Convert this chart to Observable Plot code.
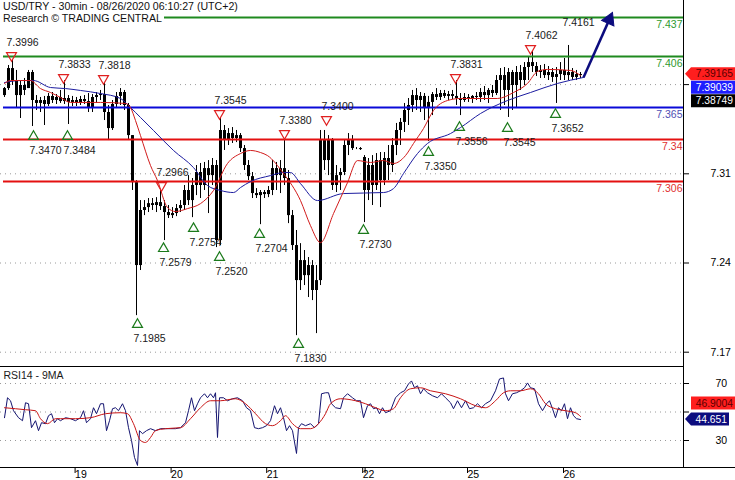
<!DOCTYPE html>
<html><head><meta charset="utf-8">
<script src="https://cdn.jsdelivr.net/npm/d3@7"></script>
<script src="https://cdn.jsdelivr.net/npm/@observablehq/plot@0.6"></script>
<style>
body{margin:0;background:#fff;}
#wrap{position:relative;width:735px;height:480px;overflow:hidden;background:#fff;font-family:"Liberation Sans",Arial,sans-serif;}
#main,#rsi{position:absolute;left:0;}
#main{top:0;} #rsi{top:367px;}
.title{position:absolute;left:0;top:0;font-size:10.6px;line-height:12px;color:#111;}
.title span{display:inline-block;background:#fff;padding:0 2px 0 3px;height:12px;}
.ln{position:absolute;background:#000;}
</style></head><body>
<div id="wrap">
  <div id="main"></div>
  <div id="rsi"></div>
  <div class="ln" style="left:683px;top:0;width:1px;height:467px"></div>
  <div class="ln" style="left:0;top:366px;width:683px;height:1px"></div>
  <div class="ln" style="left:0;top:467px;width:735px;height:1px"></div>
  <div class="title"><span>USD/TRY - 30min - 08/26/2020 06:10:27 (UTC+2)</span><br><span>Research © TRADING CENTRAL</span></div>
</div>
<script>
// ---------- DATA (hourly bars; t = hours since first bar) ----------
const candleHigh = [7.3777,7.3950,7.3997,7.3911,7.3832,7.3848,7.3911,7.3911,7.3714,7.3699,
7.3707,7.3730,7.3738,7.3722,7.3754,7.3832,7.3714,7.3707,7.3699,7.3707,
7.3714,7.3730,7.3722,7.3738,7.3754,7.3817,7.3636,7.3675,7.3738,7.3769,
7.3754,7.3652,7.3400,7.3047,7.2890,7.2890,7.2906,7.2906,7.2913,7.2969,
7.2890,7.2851,7.2835,7.2859,7.2890,7.3008,7.3086,7.3063,7.3165,7.3181,
7.3189,7.3204,7.3220,7.3204,7.3542,7.3479,7.3455,7.3463,7.3440,7.3416,
7.3322,7.3204,7.3110,7.2984,7.2969,7.2969,7.3000,7.3204,7.3189,7.3204,
7.3377,7.3126,7.2812,7.2655,7.2552,7.2498,7.2443,7.2419,7.2380,7.3440,
7.3440,7.3400,7.3377,7.3165,7.3141,7.3361,7.3416,7.3400,7.3306,7.3306,
7.3243,7.3220,7.3243,7.3259,7.3267,7.3267,7.3322,7.3377,7.3495,7.3534,
7.3652,7.3691,7.3754,7.3769,7.3738,7.3730,7.3707,7.3738,7.3769,7.3754,
7.3754,7.3746,7.3754,7.3832,7.3730,7.3730,7.3722,7.3714,7.3738,7.3769,
7.3785,7.3769,7.3793,7.3871,7.3926,7.3934,7.3926,7.3911,7.3942,7.3950,
7.3973,7.4013,7.4060,7.3973,7.3950,7.3958,7.3942,7.3926,7.3934,7.3973,
7.4005,7.4107,7.3926,7.3911,7.3895];
const candleLow = [7.3699,7.3754,7.3793,7.3620,7.3534,7.3714,7.3769,7.3471,7.3597,7.3581,
7.3479,7.3628,7.3652,7.3644,7.3652,7.3644,7.3487,7.3628,7.3628,7.3636,
7.3644,7.3581,7.3581,7.3652,7.3675,7.3518,7.3361,7.3440,7.3612,7.3636,
7.3597,7.3361,7.2969,7.1987,7.2341,7.2772,7.2796,7.2812,7.2796,7.2812,
7.2576,7.2749,7.2749,7.2764,7.2796,7.2812,7.2851,7.2756,7.2929,7.2906,
7.2969,7.2788,7.3008,7.2521,7.2537,7.3283,7.3322,7.3338,7.3345,7.3267,
7.3126,7.3047,7.2906,7.2906,7.2701,7.2906,7.2913,7.2929,7.2969,7.2945,
7.3008,7.2709,7.2498,7.1830,7.2184,7.2223,7.2129,7.2105,7.1846,7.2223,
7.3126,7.3086,7.2969,7.2953,7.2969,7.3086,7.3243,7.3283,7.3290,7.3283,
7.2717,7.2890,7.2851,7.2969,7.2835,7.3008,7.3047,7.3110,7.3243,7.3322,
7.3424,7.3479,7.3581,7.3597,7.3581,7.3518,7.3353,7.3557,7.3675,7.3675,
7.3691,7.3675,7.3683,7.3636,7.3557,7.3660,7.3660,7.3652,7.3675,7.3660,
7.3675,7.3652,7.3699,7.3714,7.3597,7.3636,7.3542,7.3597,7.3612,7.3754,
7.3793,7.3832,7.3895,7.3864,7.3848,7.3848,7.3832,7.3817,7.3652,7.3832,
7.3832,7.3832,7.3832,7.3832,7.3848];
const candleOpen = [7.3714,7.3769,7.3926,7.3832,7.3714,7.3793,7.3769,7.3895,7.3675,7.3652,
7.3675,7.3644,7.3707,7.3675,7.3699,7.3667,7.3691,7.3660,7.3675,7.3652,
7.3683,7.3667,7.3612,7.3699,7.3714,7.3722,7.3581,7.3455,7.3644,7.3707,
7.3738,7.3636,7.3400,7.3031,7.2380,7.2812,7.2835,7.2866,7.2851,7.2874,
7.2843,7.2796,7.2772,7.2788,7.2827,7.2851,7.2969,7.2890,7.3008,7.3110,
7.3008,7.3141,7.3086,7.3165,7.2576,7.3440,7.3361,7.3416,7.3377,7.3400,
7.3298,7.3165,7.3078,7.2945,7.2929,7.2953,7.2937,7.2969,7.3141,7.3086,
7.3141,7.3063,7.2772,7.2537,7.2262,7.2419,7.2301,7.2380,7.2184,7.2262,
7.3361,7.3204,7.3361,7.3008,7.3086,7.3110,7.3322,7.3361,7.3298,7.3298,
7.3228,7.2969,7.3165,7.3008,7.3204,7.3047,7.3220,7.3165,7.3322,7.3440,
7.3503,7.3597,7.3636,7.3714,7.3675,7.3707,7.3612,7.3660,7.3722,7.3699,
7.3730,7.3707,7.3722,7.3707,7.3691,7.3675,7.3699,7.3683,7.3707,7.3699,
7.3738,7.3714,7.3754,7.3730,7.3832,7.3871,7.3754,7.3895,7.3793,7.3895,
7.3832,7.3934,7.3973,7.3942,7.3895,7.3911,7.3871,7.3895,7.3856,7.3879,
7.3911,7.3871,7.3895,7.3856,7.3879];
const candleClose = [7.3769,7.3926,7.3832,7.3714,7.3793,7.3754,7.3895,7.3675,7.3652,7.3675,
7.3644,7.3707,7.3675,7.3699,7.3667,7.3691,7.3660,7.3675,7.3652,7.3683,
7.3667,7.3612,7.3699,7.3714,7.3722,7.3581,7.3455,7.3644,7.3707,7.3738,
7.3636,7.3400,7.3031,7.2380,7.2812,7.2835,7.2866,7.2851,7.2874,7.2843,
7.2796,7.2772,7.2788,7.2827,7.2851,7.2969,7.2890,7.3008,7.3110,7.3008,
7.3141,7.3086,7.3165,7.2576,7.3440,7.3361,7.3416,7.3377,7.3400,7.3298,
7.3165,7.3078,7.2945,7.2929,7.2953,7.2937,7.2969,7.3141,7.3086,7.3141,
7.3063,7.2772,7.2537,7.2262,7.2419,7.2301,7.2380,7.2184,7.2262,7.3361,
7.3204,7.3361,7.3008,7.3086,7.3110,7.3322,7.3361,7.3298,7.3298,7.3290,
7.2969,7.3165,7.3008,7.3204,7.3047,7.3220,7.3165,7.3322,7.3440,7.3503,
7.3597,7.3636,7.3714,7.3675,7.3707,7.3612,7.3660,7.3722,7.3699,7.3730,
7.3707,7.3722,7.3707,7.3691,7.3675,7.3699,7.3683,7.3707,7.3699,7.3738,
7.3714,7.3754,7.3730,7.3832,7.3871,7.3754,7.3895,7.3793,7.3895,7.3832,
7.3934,7.3973,7.3942,7.3895,7.3911,7.3871,7.3895,7.3856,7.3879,7.3911,
7.3871,7.3895,7.3856,7.3879,7.3871];

const fastMaT = [0,1.5,6.5,9,11.5,14,16.5,24,30.25,31.5,32.75,34,36.5,38.25,40.75,42.75,45.75,49,52.25,55.75,59,61.5,64,65.75,69.75,74,76.5,79,82.25,85.75,88.25,91.5,94.75,97.25,100.25,102.25,104.75,107.25,110.75,114,123.25,127.25,130.75,133.25,135.75,141.5,144];
const fastMaV = [7.3809,7.3832,7.3832,7.3769,7.3738,7.3699,7.3660,7.3660,7.3652,7.3620,7.3518,7.3400,7.3165,7.3047,7.2835,7.2804,7.2827,7.2866,7.2969,7.3181,7.3259,7.3283,7.3267,7.3243,7.3102,7.2890,7.2693,7.2560,7.2788,7.3031,7.3204,7.3189,7.3204,7.3181,7.3243,7.3338,7.3455,7.3597,7.3675,7.3691,7.3691,7.3738,7.3809,7.3903,7.3919,7.3911,7.3871];
const slowMaT = [0,4,7.25,11.5,15.25,19,24,29,31.5,34,37.25,42.25,47.25,50.75,54,57.25,59,61.5,66.5,69.75,71.5,74,78.25,84.75,94.75,97.25,99.75,103.25,105.75,111.5,114,119,125.75,131.5,138.25,144.75];
const slowMaV = [7.3816,7.3832,7.3832,7.3777,7.3769,7.3754,7.3730,7.3691,7.3620,7.3542,7.3440,7.3283,7.3149,7.3008,7.2969,7.2953,7.2992,7.3039,7.3086,7.3110,7.3110,7.3023,7.2890,7.2945,7.2953,7.2984,7.3102,7.3259,7.3338,7.3416,7.3463,7.3573,7.3675,7.3738,7.3809,7.3856];

const rsiT = [0,0.75,1.5,2.25,3.5,4.5,5.25,6,6.75,7.75,
8.5,9.25,10.25,11,11.75,12.5,13.25,14,15.25,16.5,
17.75,19,19.75,20.5,21.5,22.25,23,24,24.75,25.5,
26.25,27,27.75,28.5,29.5,30.25,31,31.75,32.5,33.25,
33.75,34.5,35.5,36.5,37.75,39,40.25,41.5,42.75,44,
45.25,46,46.75,47.5,48.25,49,50,50.75,51.5,52.25,
52.75,53.25,53.75,54.75,55.75,57,58.25,59.5,60.5,61.5,
62.5,63.5,64.5,65.5,66.5,67.5,68.25,69,69.75,70.5,
71.25,72,73,73.5,74.25,75.25,76.5,77.5,78.5,79.25,
80.25,81,81.75,82.75,84,84.75,85.75,87,88,89,
89.75,90.75,91.5,92.25,93,93.75,94.5,95.25,96.5,97.75,
99,100,101,101.75,102.5,103.25,104,104.75,105.75,107,
108.25,109.25,110.25,111.5,112.25,113.25,114.25,115.25,116.25,117.25,
118.25,119.25,120.25,121.5,122.75,123.75,124.75,125.25,126,127,
128,129,130,130.75,131.5,132.5,133.5,134.5,135.5,136.25,
137,137.75,138.5,139.25,140,140.75,141.5,142.25,143,144];
const rsiV = [46.0,60.0,57.9,50.9,46.0,43.9,56.5,55.8,39.0,43.9,
36.9,42.5,41.8,47.4,48.8,42.5,45.3,43.9,46.0,45.3,
43.9,46.0,50.9,42.5,45.3,53.0,48.8,55.8,55.8,36.9,
43.9,52.3,53.0,50.9,55.8,50.9,39.0,30.0,18.1,12.5,
36.9,34.8,36.9,38.3,36.9,38.3,38.3,38.3,38.3,39.0,
42.5,50.9,60.0,50.9,55.8,60.0,62.8,60.0,62.8,60.0,
63.5,32.1,60.0,60.0,57.9,59.3,60.0,57.9,53.0,50.9,
39.0,38.3,39.0,40.4,43.9,54.4,48.8,53.0,46.0,36.9,
40.4,36.9,20.9,39.0,41.8,40.4,41.8,39.0,41.8,62.8,
63.5,63.5,55.8,53.0,52.3,60.0,62.8,60.0,57.9,57.9,
46.0,54.4,55.8,52.3,53.0,48.8,53.0,49.5,50.9,60.0,
63.5,64.9,69.7,71.8,67.0,68.4,62.8,66.3,63.5,61.4,
60.0,62.8,60.0,56.5,52.3,57.9,53.0,57.9,52.3,53.0,
55.8,53.0,55.8,57.9,64.9,73.2,73.9,62.8,57.9,62.8,
63.5,64.9,67.0,70.4,67.0,66.3,55.8,50.9,55.8,57.9,
52.3,46.0,53.0,50.9,55.8,45.3,53.0,47.4,45.3,44.7];
const rsiMaT = [0,2.75,5.25,7.75,9,10.75,12.75,14,17.75,21.5,25.25,29,30.75,32.25,34,35.25,36.5,37.75,40.25,44,46.5,49,51.5,54,57.75,60.25,62.75,65.25,67,69,70.25,72,74,76.5,78.5,80.25,81.5,84,87.75,90.25,92.75,95.25,97.25,99,101.5,104,106.5,110.25,114,117.75,120.25,122.75,124.75,126.5,129,131.5,133.5,135.25,137.75,140.25,142.75,144];
const rsiMaV = [53.0,52.3,51.6,50.9,45.3,41.8,45.3,45.3,45.3,46.0,48.8,49.5,48.8,41.8,30.0,28.6,32.1,36.9,38.3,39.0,45.3,53.0,57.9,57.9,59.3,55.8,48.8,41.8,40.4,43.9,47.4,41.8,38.3,38.3,41.8,48.8,55.8,59.3,57.9,55.8,53.0,50.9,52.3,60.0,66.3,67.0,64.9,62.8,59.3,54.4,53.0,57.9,63.5,64.9,64.9,66.3,62.8,55.8,52.3,50.9,49.5,46.9];

const levelV = [7.4327, 7.4021, 7.3620, 7.3369, 7.3039];
const levelLabel = ["7.437", "7.406", "7.365", "7.34", "7.306"];
const levelKind = ["resistance", "resistance", "pivot", "support", "support"];

const highT = [1.75, 14.75, 24.75, 39.25, 53.75, 70, 80.5, 112.75, 131.5, 140.75];
const highV = [7.4028, 7.3856, 7.3848, 7.3008, 7.3573, 7.3416, 7.3526, 7.3856, 7.4083, 7.4189];
const highLabel = ["7.3996","7.3833","7.3818","7.2966","7.3545","7.3380","7.3400","7.3831","7.4062","7.4161"];
const highMarked = [true,true,true,true,true,true,true,true,true,false];

const lowT = [7.25, 15.75, 33.25, 39.75, 47.25, 53.75, 63.75, 73.5, 89.75, 106, 113.75, 125.75, 137.75];
const lowV = [7.3393, 7.3393, 7.1917, 7.2513, 7.2670, 7.2443, 7.2623, 7.1760, 7.2655, 7.3267, 7.3463, 7.3455, 7.3565];
const lowLabel = ["7.3470","7.3484","7.1985","7.2579","7.2754","7.2520","7.2704","7.1830","7.2730","7.3350","7.3556","7.3545","7.3652"];

const forecastT = [144.75, 152];
const forecastV = [7.3856, 7.4366];

const priceTicks = [7.17, 7.24, 7.31, 7.38];
const priceTickLabels = ["7.17", "7.24", "7.31", ""];
const rsiTicks = [30, 50, 70];
const rsiTickLabels = ["30", "", "70"];
const dayTicks = [16.9, 40.9, 64.8, 88.8, 89.4, 115, 139];
const dayLabels = ["19", "20", "21", "22", "", "25", "26"];

const priceTagValues = [7.39165, 7.39039, 7.38749];
const priceTagLabels = ["7.39165", "7.39039", "7.38749"];
const rsiTagValues = [46.9004, 44.651];
const rsiTagLabels = ["46.9004", "44.651"];

// ---------- STYLE ----------
const FONT = '"Liberation Sans", Arial, sans-serif';
const levelColor = {resistance: "#1f8a1f", pivot: "#0a0ad8", support: "#e41010"};
const levelTextColor = {resistance: "#2f9a2f", pivot: "#5050b4", support: "#e03030"};
const TXT = "#1a1a1a";
const NAVY = "#0c0c7e";
const xOpts = {domain: [-1, 169.75], range: [0, 683], label: null};
const yPriceOpts = {domain: [7.17, 7.38], range: [351.7, 84.1], label: null};
const yRsiOpts = {domain: [30, 70], range: [73, 16], label: null};

// ---------- TABLES ----------
const candles = candleHigh.map((h, i) => ({t: i, h, l: candleLow[i], o: candleOpen[i], c: candleClose[i]}));
const fastMa = fastMaT.map((t, i) => ({t, v: fastMaV[i]}));
const slowMa = slowMaT.map((t, i) => ({t, v: slowMaV[i]}));
const rsi = rsiT.map((t, i) => ({t, v: rsiV[i]}));
const rsiMa = rsiMaT.map((t, i) => ({t, v: rsiMaV[i]}));
const levels = levelV.map((v, i) => ({v, label: levelLabel[i], kind: levelKind[i]}));
const highs = highT.map((t, i) => ({t, v: highV[i], label: highLabel[i], marked: highMarked[i]}));
const lows = lowT.map((t, i) => ({t, v: lowV[i], label: lowLabel[i]}));
const priceTickMap = new Map(priceTicks.map((d, i) => [d, priceTickLabels[i]]));
const rsiTickMap = new Map(rsiTicks.map((d, i) => [d, rsiTickLabels[i]]));
const dayMap = new Map(dayTicks.map((d, i) => [d, dayLabels[i]]));

// forecast arrow geometry through Plot scales
const sx = Plot.scale({x: xOpts});
const sy = Plot.scale({y: yPriceOpts});
const px0 = sx.apply(forecastT[0]), py0 = sy.apply(forecastV[0]);
const px1 = sx.apply(forecastT[1]), py1 = sy.apply(forecastV[1]);
const len = Math.hypot(px1 - px0, py1 - py0);
const ux = (px1 - px0) / len, uy = (py1 - py0) / len;
const headAngle = Math.atan2(ux, -uy) * 180 / Math.PI;
const shaft = [{x1: forecastT[0], y1: forecastV[0], x2: sx.invert(px1 - ux * 7), y2: sy.invert(py1 - uy * 7)}];
const head = [{t: forecastT[1], v: forecastV[1]}];

const main = Plot.plot({
  width: 735, height: 367,
  marginTop: 0, marginBottom: 0, marginLeft: 0, marginRight: 52,
  style: {fontFamily: FONT, fontSize: "10.5px", color: "#000", background: "transparent", overflow: "visible"},
  x: {...xOpts, axis: null},
  y: yPriceOpts,
  color: {type: "identity"},
  marks: [
    Plot.ruleY(priceTicks, {stroke: "#9a9a9a", strokeDasharray: "1,4"}),
    Plot.ruleX(candles, {x: "t", y1: "l", y2: "h", stroke: "#000", strokeWidth: 1}),
    Plot.ruleX(candles, {x: "t", y1: "o", y2: "c", stroke: "#000", strokeWidth: 3}),
    Plot.ruleY(levels, {y: "v", x1: -0.25, x2: 169.75, stroke: d => levelColor[d.kind], strokeWidth: 2}),
    Plot.line(slowMa, {x: "t", y: "v", stroke: "#1c1ca0", strokeWidth: 1, curve: "monotone-x"}),
    Plot.line(fastMa, {x: "t", y: "v", stroke: "#d21c1c", strokeWidth: 1, curve: "monotone-x"}),
    Plot.text(levels, {x: 169.75, y: "v", text: "label", textAnchor: "end", dx: -1, dy: 7.5, fill: d => levelTextColor[d.kind]}),
    Plot.dot(highs.filter(d => d.marked), {x: "t", y: "v", symbol: "triangle", rotate: 180, r: 3.7, stroke: "#e02020", strokeWidth: 1.2, fill: "none"}),
    Plot.dot(lows, {x: "t", y: "v", symbol: "triangle", r: 3.7, stroke: "#1b7a1b", strokeWidth: 1.2, fill: "none"}),
    Plot.text(highs, {x: "t", y: "v", text: "label", textAnchor: "start", dx: -5, dy: -12.5, fill: TXT}),
    Plot.text(lows, {x: "t", y: "v", text: "label", textAnchor: "start", dx: -4, dy: 14.5, fill: TXT}),
    Plot.link(shaft, {x1: "x1", y1: "y1", x2: "x2", y2: "y2", stroke: NAVY, strokeWidth: 2.5}),
    Plot.dot(head, {x: "t", y: "v", symbol: "triangle", r: 5, rotate: headAngle, fill: NAVY, stroke: NAVY, strokeWidth: 1, dx: -ux * 7.8, dy: -uy * 7.8}),
    Plot.axisY({anchor: "right", ticks: priceTicks, tickSize: 5, tickPadding: 22, tickFormat: d => priceTickMap.get(d) ?? "", label: null, fill: "#000"})
  ]
});
document.getElementById("main").appendChild(main);

const rsiPlot = Plot.plot({
  width: 735, height: 113,
  marginTop: 0, marginBottom: 13, marginLeft: 0, marginRight: 52,
  style: {fontFamily: FONT, fontSize: "10.5px", color: "#000", background: "transparent", overflow: "visible"},
  x: xOpts,
  y: yRsiOpts,
  marks: [
    Plot.ruleY(rsiTicks, {stroke: "#9a9a9a", strokeDasharray: "1,4"}),
    Plot.line(rsi, {x: "t", y: "v", stroke: "#141470", strokeWidth: 1}),
    Plot.line(rsiMa, {x: "t", y: "v", stroke: "#c81414", strokeWidth: 1, curve: "monotone-x"}),
    Plot.text(["RSI14 - 9MA"], {text: d => d, frameAnchor: "top-left", textAnchor: "start", lineAnchor: "top", dx: 3, dy: 4, fill: TXT}),
    Plot.axisY({anchor: "right", ticks: rsiTicks, tickSize: 5, tickPadding: 27, tickFormat: d => rsiTickMap.get(d) ?? "", label: null, fill: "#000"}),
    Plot.axisX({anchor: "bottom", ticks: dayTicks, tickSize: 6, tickPadding: -3, textAnchor: "start", dx: 3, tickFormat: d => dayMap.get(d) ?? "", label: null, fill: "#000"})
  ]
});
document.getElementById("rsi").appendChild(rsiPlot);

// ---------- value tags on the right (positioned with the plots' own scales) ----------
function drawTag(svg, cy, label, fill, color, pointed, right) {
  const h = 13, left = 691, tip = 685;
  const pts = pointed
    ? [[tip, cy], [left, cy - h / 2], [right, cy - h / 2], [right, cy + h / 2], [left, cy + h / 2]]
    : [[left, cy - h / 2], [right, cy - h / 2], [right, cy + h / 2], [left, cy + h / 2]];
  const g = d3.select(svg).append("g");
  g.append("polygon").attr("points", pts.map(p => p.join(",")).join(" ")).attr("fill", fill);
  g.append("text").attr("x", right - 2).attr("y", cy).attr("dy", "0.36em")
    .attr("text-anchor", "end").attr("fill", color).attr("font-size", "10.3px")
    .attr("font-family", FONT).text(label);
}
const mainY = main.scale("y");
const base = mainY.apply(priceTagValues[0]) + 4.5;
const priceTagStyle = [["#ff1e1e", "#5a0000", true], ["#1e1eff", "#fff", false], ["#000", "#fff", false]];
priceTagValues.forEach((v, i) => drawTag(main, base + 13.5 * i, priceTagLabels[i], priceTagStyle[i][0], priceTagStyle[i][1], priceTagStyle[i][2], 735));

const rsiY = rsiPlot.scale("y");
const rsiBase = rsiY.apply(rsiTagValues[1]);
drawTag(rsiPlot, rsiBase - 16, rsiTagLabels[0], "#ff1e1e", "#5a0000", false, 735);
drawTag(rsiPlot, rsiBase, rsiTagLabels[1], NAVY, "#fff", true, 729);
</script>
</body></html>
